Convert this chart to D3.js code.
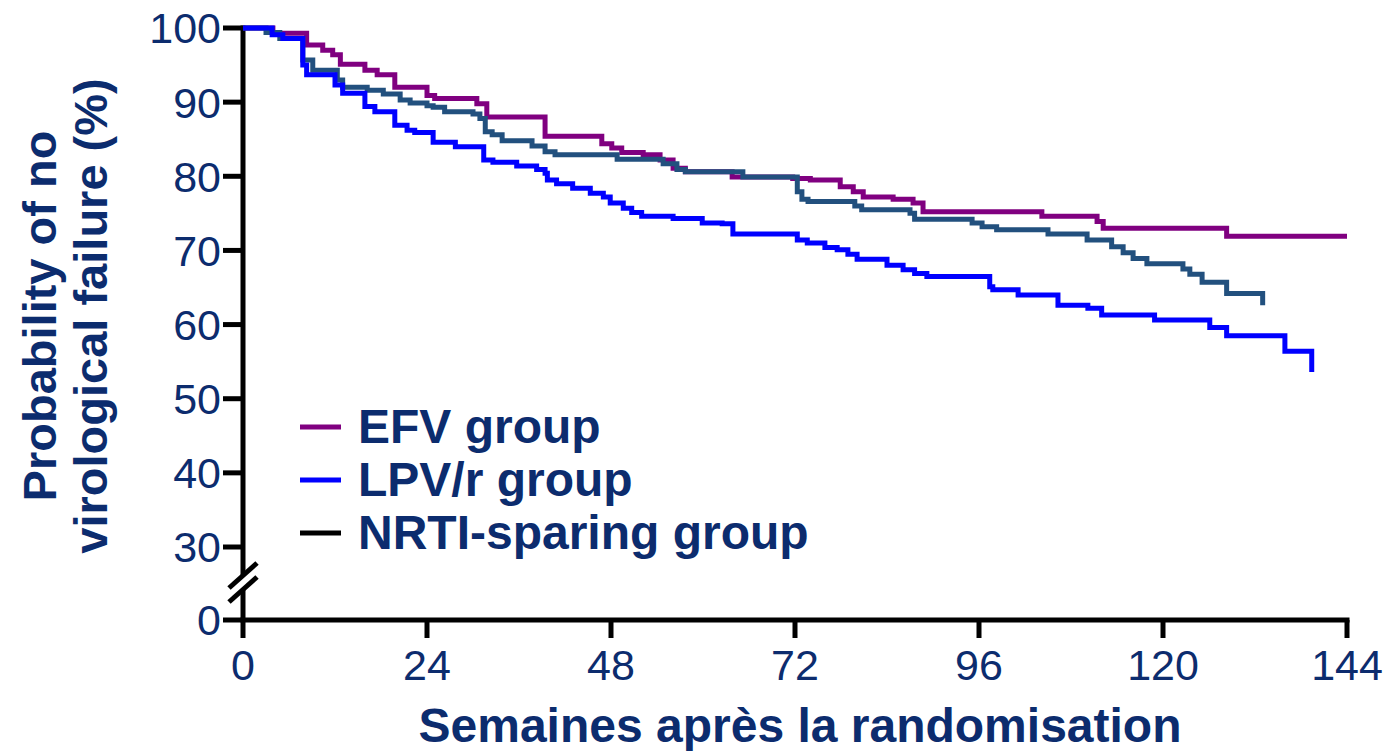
<!DOCTYPE html>
<html>
<head>
<meta charset="utf-8">
<script src="https://cdn.jsdelivr.net/npm/d3@7"></script>
<style>
  body { margin: 0; background: #fff; }
  svg { font-family: "Liberation Sans", Arial, sans-serif; }
  .tick-label { fill: #0c2c6e; font-size: 43px; }
  .title { fill: #0c2c6e; font-size: 48px; font-weight: bold; }
  .ytitle { fill: #0c2c6e; font-size: 47px; font-weight: bold; }
  .legend-text { fill: #0c2c6e; font-size: 48px; font-weight: bold; }
  .axis-line { stroke: #000; stroke-width: 5; fill: none; }
</style>
</head>
<body>
<script>
    // Kaplan-Meier steps: week where the step starts, survival %
    var efvWeeks = [0, 3.9, 8.3, 10.4, 11.7, 12.7, 15.9, 17.5, 19.8, 24.0, 25.0, 30.5, 31.8, 39.4, 46.8, 48.1, 49.4, 52.2, 54.4, 56.1, 57.7, 63.8, 71.7, 74.0, 77.9, 79.6, 80.9, 84.8, 87.4, 88.7, 104.2, 111.4, 112.2, 128.3, 144];
    var efvSurv  = [100, 99.3, 97.7, 97.0, 96.4, 95.1, 94.3, 93.7, 92.0, 90.9, 90.5, 89.8, 88.0, 85.4, 84.4, 83.8, 83.2, 82.9, 82.2, 81.1, 80.6, 79.9, 79.7, 79.5, 78.6, 77.9, 77.2, 76.9, 76.4, 75.2, 74.6, 73.9, 73.0, 71.9, 71.9];

    var lpvWeeks = [0, 3.8, 5.2, 7.8, 8.3, 12.0, 13.0, 15.9, 17.2, 19.8, 21.4, 22.4, 24.8, 27.7, 31.4, 32.6, 35.7, 38.3, 39.4, 39.7, 40.9, 43.0, 45.3, 47.0, 47.9, 49.6, 50.7, 52.0, 56.1, 59.9, 62.5, 63.9, 72.3, 73.6, 75.9, 77.5, 78.9, 80.1, 84.0, 86.1, 87.6, 89.2, 97.4, 97.8, 101.1, 106.3, 110.2, 112.0, 118.9, 126.1, 128.3, 135.9, 139.4];
    var lpvSurv  = [100, 99.1, 98.6, 95.0, 93.7, 92.3, 91.2, 89.4, 88.7, 86.9, 86.2, 85.9, 84.6, 84.0, 82.2, 81.9, 81.4, 80.9, 80.4, 79.5, 79.0, 78.4, 77.7, 77.2, 76.4, 75.7, 75.1, 74.6, 74.3, 73.7, 73.6, 72.2, 71.4, 71.0, 70.4, 70.1, 69.5, 68.8, 68.0, 67.4, 66.9, 66.5, 65.1, 64.7, 64.0, 62.6, 62.2, 61.3, 60.6, 59.6, 58.5, 56.4, 53.6];

    var nrtiWeeks = [0, 3.0, 4.8, 7.8, 9.1, 12.3, 13.0, 16.2, 18.3, 20.5, 21.8, 24.0, 24.8, 26.3, 30.0, 30.9, 31.6, 32.5, 33.8, 37.7, 39.4, 40.7, 48.8, 54.8, 56.6, 57.7, 65.2, 72.3, 72.9, 73.7, 79.8, 80.7, 87.0, 87.6, 95.1, 96.4, 98.3, 105.0, 110.1, 113.3, 114.8, 116.1, 117.9, 122.6, 123.5, 125.1, 128.3, 133.0];
    var nrtiSurv  = [100, 99.4, 98.6, 95.7, 94.3, 93.0, 92.0, 91.6, 91.1, 90.3, 89.9, 89.5, 89.3, 88.7, 88.4, 87.8, 86.0, 85.6, 84.8, 84.1, 83.3, 82.9, 82.3, 81.7, 80.9, 80.6, 79.9, 77.9, 76.9, 76.6, 76.0, 75.5, 75.0, 74.2, 73.7, 73.2, 72.8, 72.2, 71.4, 70.5, 69.7, 68.9, 68.2, 67.5, 66.8, 65.7, 64.2, 62.6];

    var xTicks = [0, 24, 48, 72, 96, 120, 144];
    var yTicks = [0, 30, 40, 50, 60, 70, 80, 90, 100];
    var seriesNames = ["EFV group", "LPV/r group", "NRTI-sparing group"];
    var seriesColors = ["#800080", "#0000ff", "#22507e"];
    var legendColors = ["#800080", "#0000ff", "#000000"];

    var width = 1388, height = 751;

    // broken y axis: 0 sits below the 30..100 segment
    var x = d3.scaleLinear().domain([0, 144]).range([243, 1347]);
    var y = d3.scaleLinear().domain([0, 30, 100]).range([620, 547, 28]);

    var svg = d3.select("body").append("svg")
      .attr("width", width)
      .attr("height", height);

    function toPoints(weeks, surv) {
      return weeks.map(function(w, i) { return {t: w, s: surv[i]}; });
    }

    var kmLine = d3.line()
      .curve(d3.curveStepAfter)
      .x(function(d) { return x(d.t); })
      .y(function(d) { return y(d.s); });

    //axes
    var axisG = svg.append("g");
    axisG.append("line").attr("class", "axis-line")
      .attr("x1", x(0)).attr("x2", x(0))
      .attr("y1", y(100) - 2.5).attr("y2", 576);
    axisG.append("line").attr("class", "axis-line")
      .attr("x1", x(0)).attr("x2", x(0))
      .attr("y1", 590).attr("y2", y(0));
    // break marks
    [0, 14].forEach(function(off) {
      axisG.append("line").attr("class", "axis-line")
        .attr("x1", x(0) - 14).attr("y1", 588 + off)
        .attr("x2", x(0) + 14).attr("y2", 563 + off);
    });
    axisG.append("line").attr("class", "axis-line")
      .attr("x1", x(0) - 2.5).attr("x2", x(144) + 2.5)
      .attr("y1", y(0)).attr("y2", y(0));

    yTicks.forEach(function(v) {
      axisG.append("line").attr("class", "axis-line")
        .attr("x1", x(0) - 20).attr("x2", x(0))
        .attr("y1", y(v)).attr("y2", y(v));
      axisG.append("text").attr("class", "tick-label")
        .attr("x", x(0) - 22).attr("y", y(v))
        .attr("dy", "0.36em")
        .attr("text-anchor", "end")
        .text(v);
    });

    xTicks.forEach(function(v) {
      axisG.append("line").attr("class", "axis-line")
        .attr("x1", x(v)).attr("x2", x(v))
        .attr("y1", y(0)).attr("y2", y(0) + 18);
      axisG.append("text").attr("class", "tick-label")
        .attr("x", x(v)).attr("y", y(0) + 60)
        .attr("text-anchor", "middle")
        .text(v);
    });

    //axis titles
    svg.append("text").attr("class", "title")
      .attr("x", 800).attr("y", 742)
      .attr("text-anchor", "middle")
      .text("Semaines après la randomisation");

    var yTitle = svg.append("text").attr("class", "ytitle")
      .attr("transform", "translate(0,316) rotate(-90)")
      .attr("text-anchor", "middle");
    yTitle.append("tspan").attr("x", 0).attr("y", 56).text("Probability of no");
    yTitle.append("tspan").attr("x", 0).attr("y", 107).text("virological failure (%)");

    //curves: EFV, then NRTI, then LPV/r on top
    var series = [
      {pts: toPoints(efvWeeks, efvSurv), color: seriesColors[0]},
      {pts: toPoints(nrtiWeeks, nrtiSurv), color: seriesColors[2]},
      {pts: toPoints(lpvWeeks, lpvSurv), color: seriesColors[1]}
    ];
    series.forEach(function(s) {
      svg.append("path")
        .data([s.pts])
        .attr("fill", "none")
        .attr("stroke", s.color)
        .attr("stroke-width", 5)
        .attr("d", kmLine);
    });

    //legend
    seriesNames.forEach(function(name, i) {
      var ly = 427 + i * 53;
      svg.append("line")
        .attr("x1", 300).attr("x2", 341)
        .attr("y1", ly).attr("y2", ly)
        .attr("stroke", legendColors[i])
        .attr("stroke-width", 5);
      svg.append("text").attr("class", "legend-text")
        .attr("x", 358).attr("y", ly + 16)
        .text(name);
    });
</script>
</body>
</html>
